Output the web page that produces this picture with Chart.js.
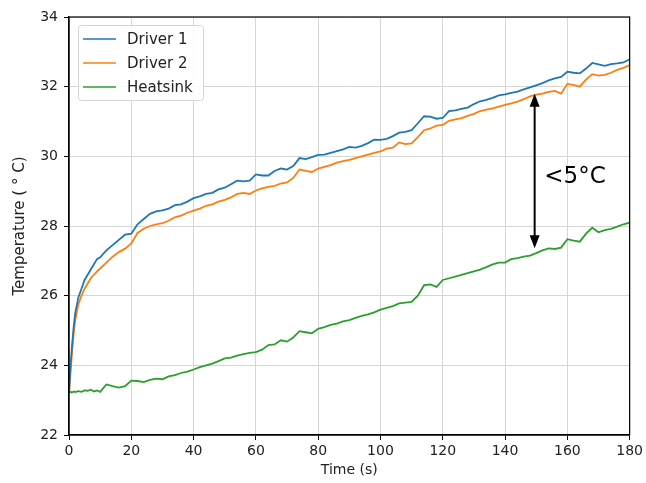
<!DOCTYPE html>
<html>
<head>
<meta charset="utf-8">
<script src="https://cdn.jsdelivr.net/npm/chart.js@4"></script>
<style>
  html, body { margin: 0; padding: 0; background: #fff; }
  #wrap { width: 646px; height: 483px; }
</style>
</head>
<body>
<div id="wrap"><canvas id="grafico" width="646" height="483"></canvas></div>
<script>
// time stamps (s)
const tempos = [0, 0.5, 1, 1.5, 2, 3, 4, 5, 6, 7, 8, 9, 10,
  12, 14, 16, 18, 20, 22, 24, 26, 28, 30, 32, 34, 36, 38, 40, 42, 44, 46, 48, 50,
  52, 54, 56, 58, 60, 62, 64, 66, 68, 70, 72, 74, 76, 78, 80, 82, 84, 86, 88, 90,
  92, 94, 96, 98, 100, 102, 104, 106, 108, 110, 112, 114, 116, 118, 120, 122, 124, 126, 128, 130,
  132, 134, 136, 138, 140, 142, 144, 146, 148, 150, 152, 154, 156, 158, 160, 162, 164, 166, 168, 170,
  172, 174, 176, 178, 180];

const driver1 = [23.2, 24.0, 24.6, 25.1, 25.5, 25.95, 26.2, 26.45, 26.6, 26.75, 26.9, 27.05, 27.1,
  27.3, 27.45, 27.6, 27.75, 27.78, 28.05, 28.2, 28.35, 28.42, 28.45, 28.5, 28.6, 28.62, 28.7, 28.8, 28.85, 28.92, 28.95, 29.05, 29.1,
  29.2, 29.3, 29.28, 29.3, 29.48, 29.45, 29.45, 29.58, 29.65, 29.62, 29.72, 29.95, 29.92, 29.98, 30.04, 30.05, 30.1, 30.15, 30.2, 30.27,
  30.25, 30.3, 30.38, 30.48, 30.47, 30.5, 30.58, 30.68, 30.7, 30.75, 30.95, 31.15, 31.14, 31.08, 31.1, 31.3, 31.32, 31.36, 31.4, 31.5,
  31.58, 31.62, 31.68, 31.75, 31.78, 31.82, 31.86, 31.92, 31.98, 32.04, 32.1, 32.18, 32.24, 32.28, 32.43, 32.4, 32.38, 32.52, 32.68, 32.64,
  32.6, 32.65, 32.67, 32.7, 32.78];

const driver2 = [23.2, 23.8, 24.4, 24.9, 25.3, 25.75, 26.0, 26.2, 26.35, 26.5, 26.6, 26.7, 26.78,
  26.95, 27.12, 27.25, 27.35, 27.5, 27.8, 27.92, 28.0, 28.05, 28.08, 28.15, 28.25, 28.3, 28.38, 28.44, 28.5, 28.58, 28.62, 28.7, 28.75,
  28.82, 28.92, 28.95, 28.92, 29.02, 29.08, 29.12, 29.15, 29.22, 29.25, 29.38, 29.62, 29.58, 29.55, 29.65, 29.7, 29.75, 29.82, 29.86, 29.9,
  29.95, 30.0, 30.05, 30.1, 30.14, 30.22, 30.25, 30.4, 30.35, 30.37, 30.55, 30.75, 30.8, 30.88, 30.9, 31.02, 31.06, 31.1, 31.16, 31.22,
  31.3, 31.34, 31.38, 31.43, 31.48, 31.52, 31.57, 31.64, 31.72, 31.77, 31.8, 31.85, 31.88, 31.8, 32.08, 32.05, 32.0, 32.2, 32.36, 32.32,
  32.34, 32.4, 32.48, 32.54, 32.62];

const heatsink = [23.22, 23.24, 23.22, 23.25, 23.23, 23.26, 23.24, 23.28, 23.27, 23.3, 23.25, 23.28, 23.24,
  23.45, 23.4, 23.36, 23.4, 23.56, 23.55, 23.52, 23.58, 23.62, 23.6, 23.68, 23.72, 23.78, 23.82, 23.88, 23.95, 24.0, 24.05, 24.12, 24.2,
  24.22, 24.28, 24.32, 24.36, 24.38, 24.45, 24.58, 24.6, 24.72, 24.68, 24.8, 24.98, 24.95, 24.92, 25.05, 25.1, 25.16, 25.2, 25.26, 25.3,
  25.36, 25.42, 25.46, 25.52, 25.6, 25.65, 25.7, 25.78, 25.8, 25.82, 26.0, 26.3, 26.32, 26.25, 26.45, 26.5, 26.55, 26.6, 26.65, 26.7,
  26.75, 26.82, 26.9, 26.95, 26.95, 27.05, 27.08, 27.12, 27.15, 27.22, 27.3, 27.36, 27.34, 27.38, 27.62, 27.58, 27.55, 27.78, 27.95, 27.82,
  27.88, 27.92, 27.98, 28.05, 28.1];

const nomes = ["Driver 1", "Driver 2", "Heatsink"];
const cores = ["#1f77b4", "#ff7f0e", "#2ca02c"];

// annotation (data units)
const setaX = 149.5;
const setaTopo = 31.8;
const setaBase = 27.36;
const textoSeta = "<5°C";
const textoX = 152.6;
const textoY = 29.42;

const fonte = "'DejaVu Sans', sans-serif";

function pontos(valores) {
  return tempos.map((t, i) => ({ x: t, y: valores[i] }));
}

// legend box drawn inside plot, top-left
const legendaInterna = {
  id: "legendaInterna",
  afterDatasetsDraw(chart) {
    const ctx = chart.ctx;
    const a = chart.chartArea;
    const x = a.left + 9, y = a.top + 8, w = 125, h = 75;
    ctx.save();
    ctx.beginPath();
    ctx.roundRect(x + 0.5, y + 0.5, w, h, 3);
    ctx.fillStyle = "rgba(255,255,255,0.85)";
    ctx.fill();
    ctx.strokeStyle = "#d5d5d5";
    ctx.lineWidth = 1;
    ctx.stroke();
    ctx.font = "15px " + fonte;
    ctx.textBaseline = "middle";
    chart.data.datasets.forEach((ds, i) => {
      const cy = y + 14 + i * 24;
      ctx.beginPath();
      ctx.moveTo(x + 5, cy);
      ctx.lineTo(x + 38, cy);
      ctx.strokeStyle = ds.borderColor;
      ctx.lineWidth = 1.5;
      ctx.stroke();
      ctx.fillStyle = "#222";
      ctx.fillText(ds.label, x + 49, cy + 1);
    });
    ctx.restore();
  }
};

// double arrow + label, plus box around the plot
const anotacao = {
  id: "anotacao",
  afterDraw(chart) {
    const ctx = chart.ctx;
    const sx = chart.scales.x, sy = chart.scales.y;
    const px = sx.getPixelForValue(setaX);
    const y1 = sy.getPixelForValue(setaTopo);
    const y2 = sy.getPixelForValue(setaBase);
    ctx.save();
    ctx.strokeStyle = "#000";
    ctx.fillStyle = "#000";
    ctx.lineWidth = 2;
    ctx.beginPath();
    ctx.moveTo(px, y1 + 8);
    ctx.lineTo(px, y2 - 8);
    ctx.stroke();
    ctx.beginPath();
    ctx.moveTo(px, y1);
    ctx.lineTo(px - 5, y1 + 13);
    ctx.lineTo(px + 5, y1 + 13);
    ctx.closePath();
    ctx.fill();
    ctx.beginPath();
    ctx.moveTo(px, y2);
    ctx.lineTo(px - 5, y2 - 13);
    ctx.lineTo(px + 5, y2 - 13);
    ctx.closePath();
    ctx.fill();
    ctx.font = "23px " + fonte;
    ctx.textBaseline = "middle";
    ctx.fillText(textoSeta, sx.getPixelForValue(textoX), sy.getPixelForValue(textoY));

    const a = chart.chartArea;
    ctx.lineWidth = 1.2;
    ctx.strokeRect(a.left, a.top, a.right - a.left, a.bottom - a.top);
    ctx.restore();
  }
};

const ctx = document.getElementById("grafico").getContext("2d");
const series = [driver1, driver2, heatsink];

new Chart(ctx, {
  type: "line",
  data: {
    datasets: series.map((s, i) => ({
      label: nomes[i],
      data: pontos(s),
      borderColor: cores[i],
      backgroundColor: cores[i],
      borderWidth: 1.8,
      pointRadius: 0,
      tension: 0,
      fill: false
    }))
  },
  options: {
    responsive: false,
    animation: false,
    layout: { padding: { top: 17, right: 14, left: 0, bottom: 0 } },
    plugins: {
      legend: { display: false },
      tooltip: { enabled: false }
    },
    scales: {
      x: {
        type: "linear",
        min: 0,
        max: 180,
        afterFit: s => { s.height = 48; },
        ticks: { stepSize: 20, color: "#222", font: { family: fonte, size: 14 }, padding: 3 },
        grid: { color: "#d6d6d6", tickColor: "#000", tickLength: 5 },
        border: { color: "#000", width: 1.2 },
        title: { display: true, text: "Time (s)", color: "#222", font: { family: fonte, size: 14 }, padding: { top: 4 } }
      },
      y: {
        min: 22,
        max: 34,
        afterFit: s => { s.width = 69; },
        ticks: { stepSize: 2, color: "#222", font: { family: fonte, size: 14 }, padding: 6 },
        grid: { color: "#d6d6d6", tickColor: "#000", tickLength: 5 },
        border: { color: "#000", width: 1.2 },
        title: { display: true, text: "Temperature ( ° C)", color: "#222", font: { family: fonte, size: 15 }, padding: { top: 11, bottom: 0 } }
      }
    }
  },
  plugins: [legendaInterna, anotacao]
});
</script>
</body>
</html>
